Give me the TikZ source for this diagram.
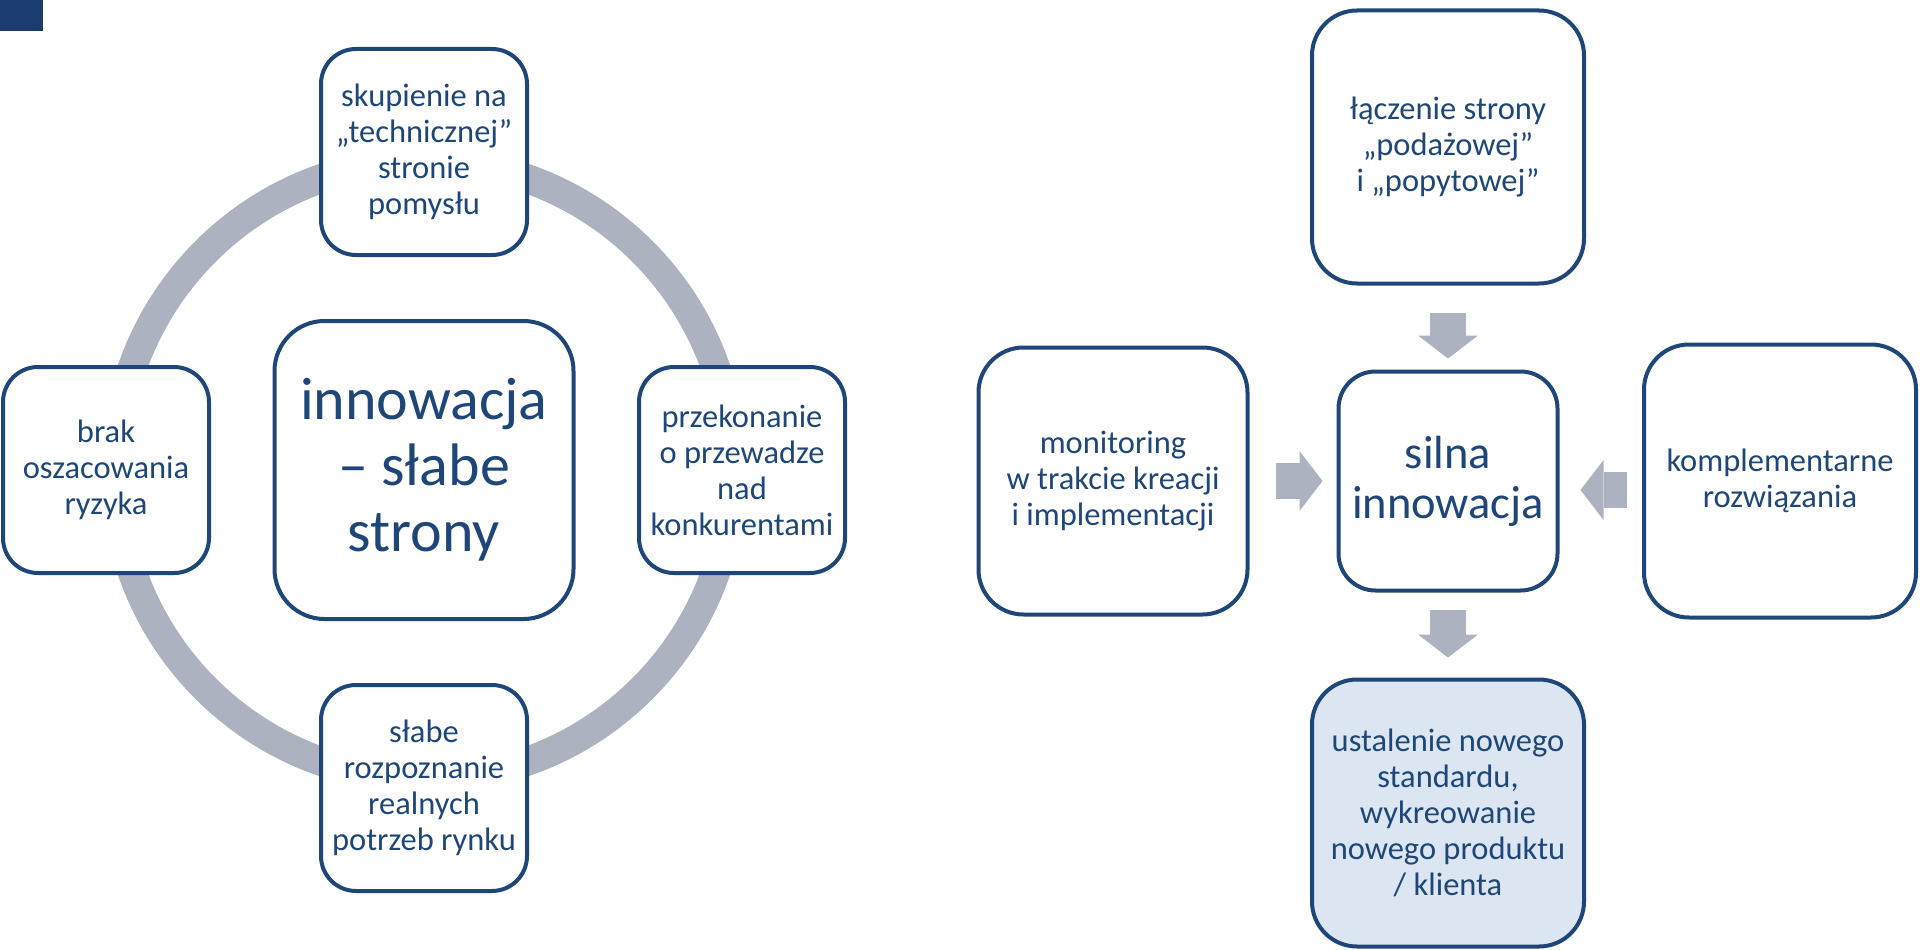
\documentclass[tikz,border=0pt]{standalone}
\usepackage{fontspec}
\setmainfont{Carlito}
\usetikzlibrary{arrows.meta, backgrounds}
\definecolor{boxblue}{HTML}{1F4679}
\definecolor{ringgray}{HTML}{ADB2C0}
\definecolor{paleblue}{HTML}{DCE6F2}
\definecolor{cornerblue}{HTML}{1B3A6E}
\tikzstyle{petal} = [rectangle, rounded corners=35pt, minimum width=206pt, minimum height=206pt, align=center, draw=boxblue, line width=4pt, fill=white, text=boxblue, font=\fontsize{32.5}{36}\selectfont]
\tikzstyle{hub} = [petal, minimum width=299pt, minimum height=298pt, rounded corners=50pt, font=\fontsize{60}{66}\selectfont]
\tikzstyle{tile} = [petal, minimum width=272pt, minimum height=273pt, rounded corners=45pt]
\tikzstyle{core} = [petal, minimum width=219pt, minimum height=219pt, rounded corners=37pt, font=\fontsize{46.5}{50}\selectfont]
\tikzstyle{ring} = [draw=ringgray, line width=29pt]
\tikzstyle{blockarrow} = [line width=36pt, draw=ringgray, -{Triangle[length=23pt, width=60pt, line width=0pt]}]

\begin{document}
\begin{tikzpicture}[x=1pt, y=-1pt, node distance=318pt]
			\useasboundingbox (0,0) rectangle (1920,950);
			\fill[cornerblue] (0,0) rectangle (43,31);

			% weak points of an innovation
			\node(weak)[hub] at (424,470) {innowacja\\– słabe\\strony};
			\node(tech)[petal, above of=weak] {skupienie na\\„technicznej”\\stronie\\pomysłu};
			\node(rivals)[petal, right of=weak] {przekonanie\\o przewadze\\nad\\konkurentami};
			\node(market)[petal, below of=weak] {słabe\\rozpoznanie\\realnych\\potrzeb rynku};
			\node(risk)[petal, left of=weak] {brak\\oszacowania\\ryzyka};
			\begin{scope}[on background layer]
				\draw [ring] (weak.center) circle (309pt);
			\end{scope}

			% strong innovation
			\node(strong)[core] at (1448,481) {silna\\innowacja};
			\node(link)[tile, above of=strong, node distance=334pt] {łączenie strony\\„podażowej”\\i „popytowej”};
			\node(watch)[tile, left of=strong, node distance=335pt, minimum width=269pt, minimum height=267pt] {monitoring\\w trakcie kreacji\\i implementacji};
			\node(extra)[tile, right of=strong, node distance=332pt] {komplementarne\\rozwiązania};
			\node(result)[tile, below of=strong, node distance=332pt, minimum height=267pt, fill=paleblue] {ustalenie nowego\\standardu,\\wykreowanie\\nowego produktu\\/ klienta};

			\draw [blockarrow, shorten <=27pt, shorten >=11pt] (link) -- (strong);
			\draw [blockarrow, shorten <=26pt, shorten >=14pt] (watch) -- (strong);
			\draw [blockarrow, shorten <=15pt, shorten >=21pt] ([yshift=-9pt]extra.west) -- ([yshift=-9pt]strong.east);
			\draw [blockarrow, shorten <=17pt, shorten >=20pt] (strong) -- (result);
		\end{tikzpicture}
\end{document}
